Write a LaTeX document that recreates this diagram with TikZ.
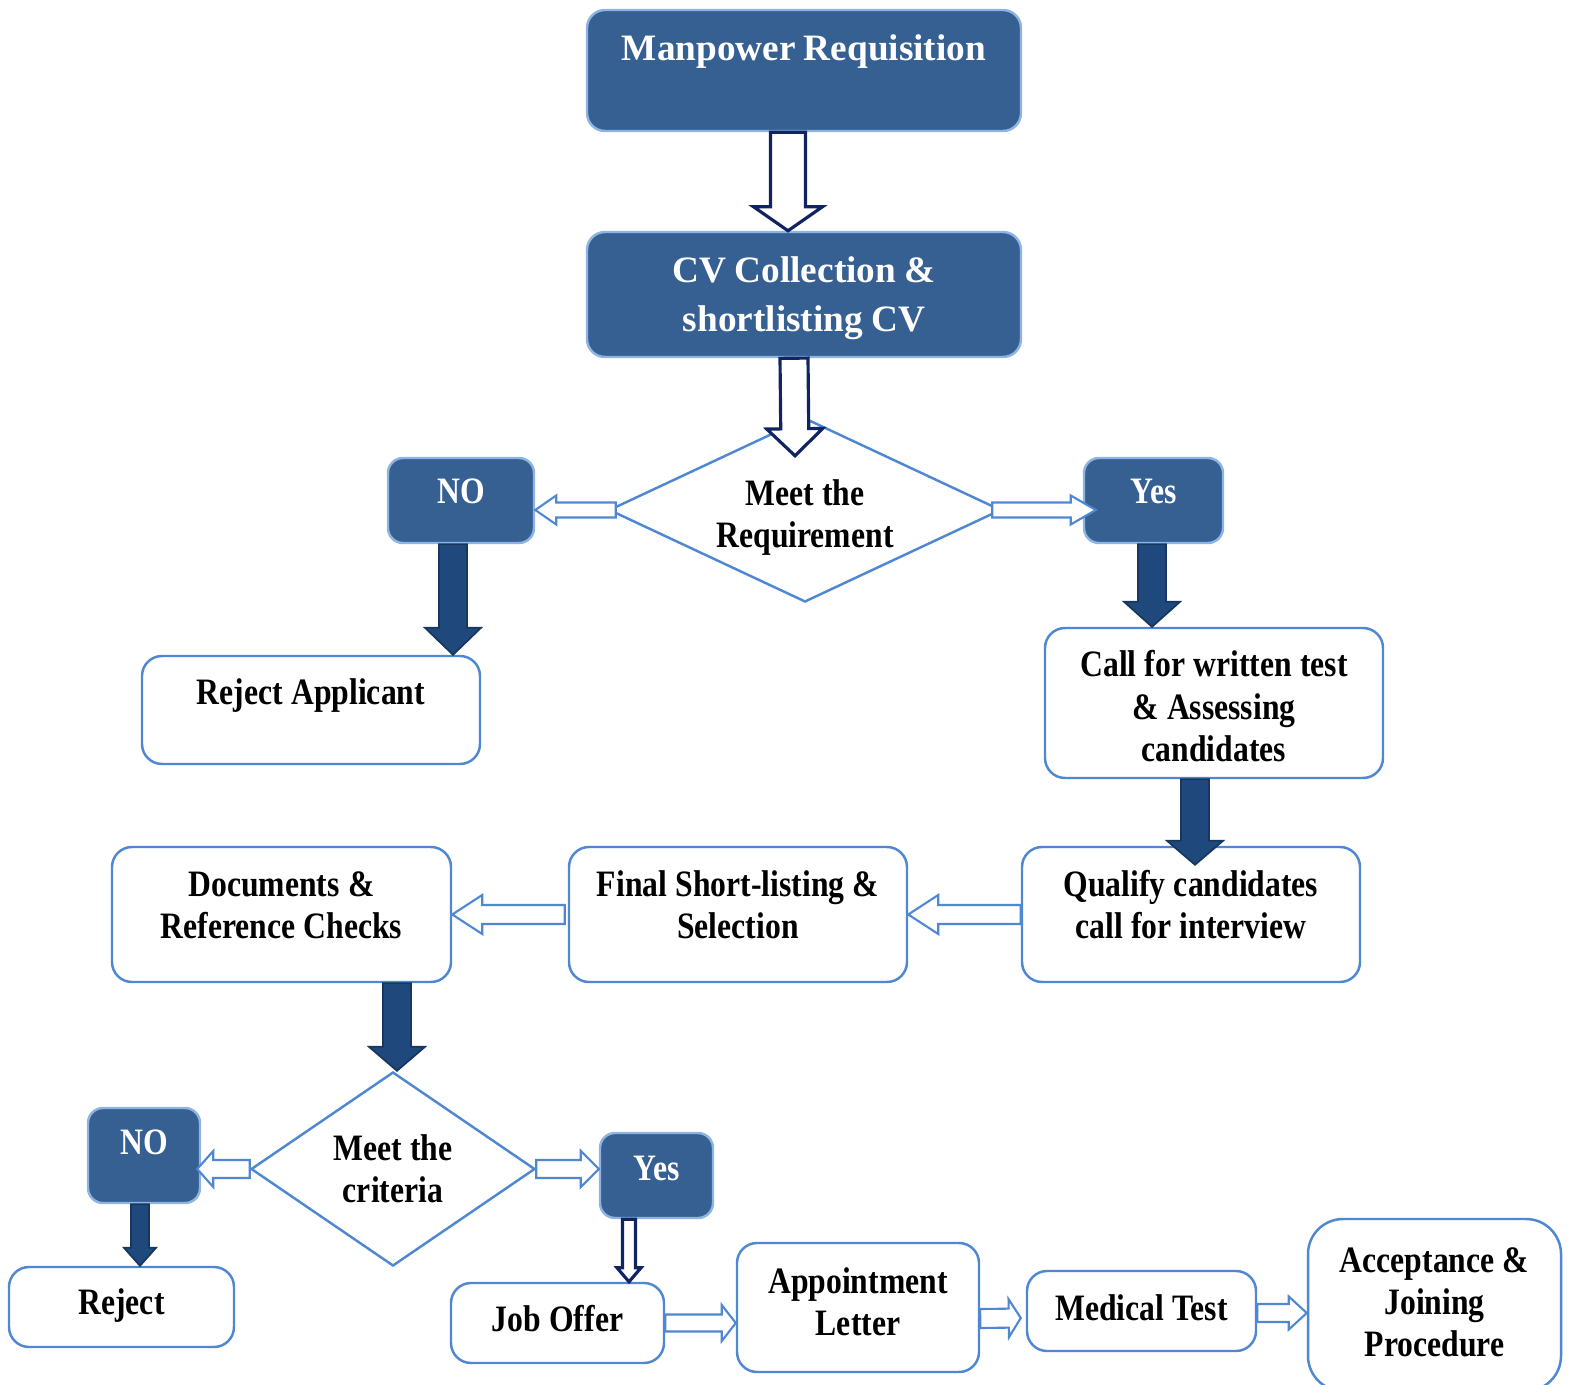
\documentclass[tikz,border=0pt]{standalone}
\usepackage{fontspec}
\setmainfont{Liberation Serif}
\newfontfamily\narrowserif{Liberation Serif}[FakeStretch=0.85]
\usepackage{xcolor}
\usepackage{tikz}
\usetikzlibrary{calc,shapes.geometric}
\definecolor{boxblue}{RGB}{54,96,146}
\definecolor{rimblue}{RGB}{141,180,226}
\definecolor{lineblue}{RGB}{79,135,210}
\definecolor{arrowblue}{RGB}{31,73,125}
\definecolor{arrowedge}{RGB}{23,55,94}
\definecolor{navyline}{RGB}{16,36,98}
\newcommand{\blockarr}[6][]{%
  \path (#2) coordinate (ba-s) (#3) coordinate (ba-e);
  \path ($(ba-e)!#6!(ba-s)$) coordinate (ba-h);
  \draw[#1] ($(ba-s)!#4!90:(ba-e)$) -- ($(ba-h)!#4!90:(ba-e)$) -- ($(ba-h)!#5!90:(ba-e)$)
    -- (ba-e) -- ($(ba-h)!#5!-90:(ba-e)$) -- ($(ba-h)!#4!-90:(ba-e)$) -- ($(ba-s)!#4!-90:(ba-e)$) -- cycle;}
\newcommand{\tightcentre}{\centering\spaceskip=0.22em\relax\xspaceskip=0.22em\relax}

\begin{document}
\begin{tikzpicture}[x=0.1mm,y=-0.1mm,
  sz/.style n args={3}{text width=#1,text height=#2,text depth=#3},
  topbox/.style={rectangle,rounded corners=1.8mm,fill=boxblue,draw=rimblue,line width=0.7pt,
    text=white,inner sep=0pt,execute at begin node=\tightcentre,
    font=\bfseries\fontsize{10.6}{13.8}\selectfont},
  tagbox/.style={rectangle,rounded corners=1.5mm,fill=boxblue,draw=rimblue,line width=0.7pt,
    text=white,inner sep=0pt,execute at begin node=\tightcentre,
    font=\narrowserif\bfseries\fontsize{10.6}{12}\selectfont},
  stepbox/.style={rectangle,rounded corners=2mm,fill=white,draw=lineblue,line width=0.7pt,
    inner sep=0pt,execute at begin node=\tightcentre,
    font=\narrowserif\bfseries\fontsize{10.6}{12}\selectfont},
  decision/.style={diamond,draw=lineblue,line width=0.7pt,inner sep=0pt,align=center,
    font=\narrowserif\bfseries\fontsize{10.6}{12}\selectfont},
  hollow/.style={draw=navyline,line width=0.9pt,fill=white},
  lightarr/.style={draw=lineblue,line width=0.6pt,fill=white},
  solidarr/.style={draw=arrowedge,line width=0.5pt,fill=arrowblue}]
\useasboundingbox (0,0) rectangle (1572,1385);
\clip (0,0) rectangle (1572,1385);
\node[topbox,sz={43.4mm}{5.1mm}{7.0mm}] (manp) at (804,70.5) {Manpower Requisition};
\node[topbox,sz={43.4mm}{5.1mm}{7.4mm}] (cv) at (804,294.5) {CV Collection \&\\shortlisting CV};
\node[decision,aspect=2.13,minimum width=39.2mm,minimum height=18.4mm] (d1) at (805,510) {\rule{0pt}{11.6pt}Meet the\\Requirement};
\node[tagbox,sz={14.6mm}{4.6mm}{3.9mm}] (no1) at (461,500.5) {NO};
\node[tagbox,sz={13.9mm}{4.6mm}{3.9mm}] (yes1) at (1153.5,500.5) {Yes};
\node[stepbox,sz={33.8mm}{4.8mm}{6.0mm}] (rejA) at (311,710) {Reject Applicant};
\node[stepbox,sz={33.8mm}{4.9mm}{10.1mm}] (call) at (1214,703) {Call for written test\\\& Assessing\\candidates};
\node[stepbox,sz={33.8mm}{4.9mm}{8.6mm}] (qual) at (1191,914.5) {Qualify candidates\\call for interview};
\node[stepbox,sz={33.8mm}{4.9mm}{8.6mm}] (final) at (738,914.5) {Final Short-listing \&\\Selection};
\node[stepbox,sz={33.9mm}{4.9mm}{8.6mm}] (docs) at (281.5,914.5) {Documents \&\\Reference Checks};
\node[decision,aspect=1.46,minimum width=28.4mm,minimum height=19.4mm] (d2) at (393,1169) {Meet the\\criteria};
\node[tagbox,sz={11.2mm}{4.6mm}{4.9mm}] (no2) at (144,1155.5) {NO};
\node[tagbox,sz={11.3mm}{4.7mm}{3.8mm}] (yes2) at (656.5,1175.5) {Yes};
\node[stepbox,sz={22.5mm}{4.7mm}{3.3mm}] (rej) at (121.5,1307) {Reject};
\node[stepbox,sz={21.3mm}{4.8mm}{3.2mm}] (job) at (557.5,1323) {Job Offer};
\node[stepbox,sz={24.2mm}{5.0mm}{7.9mm}] (appt) at (858,1307.5) {Appointment\\Letter};
\node[stepbox,sz={22.9mm}{4.9mm}{3.1mm}] (med) at (1141.5,1311) {Medical Test};
\node[stepbox,rounded corners=3.5mm,sz={25.3mm}{5.3mm}{11.9mm}] (acc) at (1434.5,1305) {Acceptance \&\\Joining\\Procedure};
\blockarr[hollow]{$(manp.south)+(-16,0)$}{$(cv.north)+(-16,0)$}{1.75mm}{3.45mm}{2.4mm}
\blockarr[hollow]{$(cv.south)+(-10,0)$}{$(d1.north)+(-10,39)$}{1.4mm}{2.8mm}{2.7mm}
\blockarr[lightarr]{$(d1.west)+(8,0)$}{d1.west -| no1.east}{0.75mm}{1.45mm}{2.1mm}
\blockarr[lightarr]{$(d1.east)+(-10,0)$}{$(d1.east -| yes1.west)+(13,0)$}{0.75mm}{1.45mm}{2.5mm}
\blockarr[solidarr]{$(no1.south)+(-8,0)$}{$(rejA.north)+(142,0)$}{1.4mm}{2.8mm}{2.7mm}
\blockarr[solidarr]{$(yes1.south)+(-1.5,0)$}{$(call.north)+(-62,0)$}{1.4mm}{2.8mm}{2.5mm}
\blockarr[solidarr]{$(call.south)+(-19,0)$}{$(qual.north)+(4,19)$}{1.4mm}{2.8mm}{2.4mm}
\blockarr[lightarr]{qual.west}{final.east}{0.95mm}{1.95mm}{3.0mm}
\blockarr[lightarr]{$(final.west)+(-3,0)$}{docs.east}{0.95mm}{1.95mm}{3.0mm}
\blockarr[solidarr]{$(docs.south)+(115.5,0)$}{$(d2.north)+(4,0)$}{1.4mm}{2.8mm}{2.4mm}
\blockarr[lightarr]{d2.west}{$(d2.west -| no2.east)+(-4,0)$}{0.9mm}{1.8mm}{1.6mm}
\blockarr[lightarr]{d2.east}{d2.east -| yes2.west}{0.9mm}{1.8mm}{1.8mm}
\blockarr[solidarr]{$(no2.south)+(-4,0)$}{$(rej.north)+(18.5,0)$}{0.9mm}{1.6mm}{1.8mm}
\blockarr[hollow]{$(yes2.south)+(-27.5,0)$}{$(job.north)+(71.5,0)$}{0.65mm}{1.2mm}{1.4mm}
\blockarr[lightarr]{job.east}{job.east -| appt.west}{0.85mm}{1.8mm}{1.4mm}
\blockarr[lightarr]{$(appt.east)+(0,11)$}{$(med.west)+(-5,7)$}{0.95mm}{1.9mm}{1.2mm}
\blockarr[lightarr]{$(med.east)+(0,2)$}{$(med.east -| acc.west)+(0,2)$}{0.9mm}{1.65mm}{1.8mm}
\end{tikzpicture}
\end{document}
